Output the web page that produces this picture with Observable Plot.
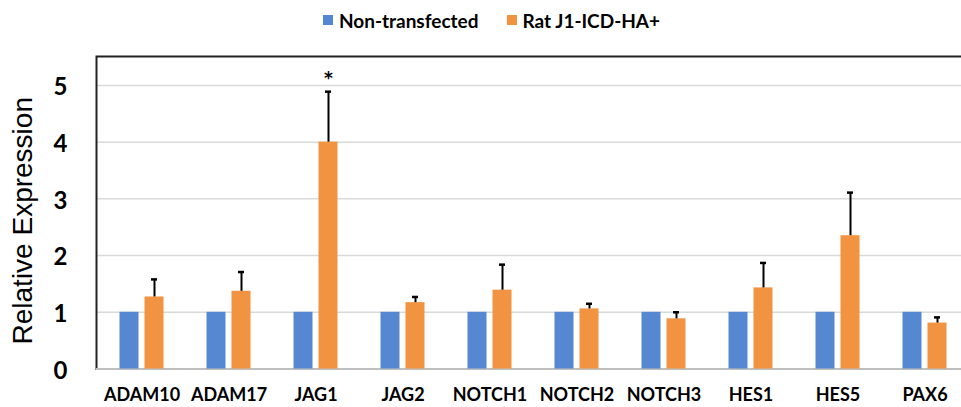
<!DOCTYPE html>
<html><head><meta charset="utf-8">
<script src="https://cdn.jsdelivr.net/npm/d3@7"></script>
<script src="https://cdn.jsdelivr.net/npm/@observablehq/plot@0.6"></script>
<style>
body{margin:0;background:#fff;overflow:hidden}
#legend{height:40px;display:flex;justify-content:center;align-items:center;font:bold 19px Lato, sans-serif;color:#000;padding-left:22px;box-sizing:border-box}
.item{display:flex;align-items:center;margin:0 14px}
.sw{width:10px;height:10px;margin-right:6px}
</style></head><body>
<div id="legend"></div><div id="chart"></div>
<script>
const genes = ["ADAM10","ADAM17","JAG1","JAG2","NOTCH1","NOTCH2","NOTCH3","HES1","HES5","PAX6"];
const series = ["Non-transfected","Rat J1-ICD-HA+"];
const nonTransfected = [1,1,1,1,1,1,1,1,1,1];
const ratJ1 = [1.27,1.37,4.0,1.17,1.39,1.06,0.885,1.43,2.35,0.81];
const ratJ1Err = [0.31,0.34,0.89,0.10,0.45,0.09,0.115,0.44,0.76,0.10];
const significance = ["","","*","","","","","","",""];
const yTicks = [0,1,2,3,4,5];
const yTitle = "Relative Expression";
const colors = ["#5687d1","#f29341"];

const legend = document.getElementById("legend");
series.forEach((s,i)=>{
  const it = document.createElement("div"); it.className="item";
  const sw = document.createElement("div"); sw.className="sw"; sw.style.background=colors[i];
  const t = document.createElement("span"); t.textContent=s;
  it.append(sw,t); legend.append(it);
});

const data = genes.map((g,i)=>({gene:g, nt:nonTransfected[i], rat:ratJ1[i], err:ratJ1Err[i], sig:significance[i]}));

const chart = Plot.plot({
  width:961, height:367,
  marginTop:16, marginBottom:38.5, marginLeft:96, marginRight:-8,
  style:{background:"#fff"},
  x:{domain:genes, paddingInner:0.782, paddingOuter:0.391},
  y:{domain:[0,5.51]},
  marks:[
    Plot.ruleY(yTicks.slice(1), {stroke:"#d9d9d9", strokeWidth:1.5}),
    Plot.frame({stroke:"#222", strokeWidth:2}),
    Plot.ruleY([0], {stroke:"#bfbfbf", strokeWidth:2}),
    Plot.barY(data,{x:"gene", y:"nt", fill:colors[0], dx:-12.5}),
    Plot.barY(data,{x:"gene", y:"rat", fill:colors[1], dx:12.5}),
    Plot.ruleX(data,{x:"gene", y1:"rat", y2:d=>d.rat+d.err, dx:12.5, stroke:"#000", strokeWidth:2}),
    Plot.tickY(data,{x:"gene", y:d=>d.rat+d.err, dx:12.5, insetLeft:6.5, insetRight:6.5, stroke:"#000", strokeWidth:2.5}),
    Plot.text(data,{x:"gene", y:d=>d.rat+d.err, text:"sig", dx:12.5, dy:-13, fontSize:17, fontWeight:"bold", fontFamily:"DejaVu Sans", fill:"#000"}),
    Plot.axisX({tickSize:0, tickPadding:19, fontSize:18, fontWeight:"bold", fontFamily:"Lato", fill:"#000", label:null}),
    Plot.axisY(yTicks,{tickSize:0, tickPadding:29, fontSize:24, fontWeight:"bold", fontFamily:"Lato", fill:"#000", label:null, dy:2, tickFormat:d=>String(d)}),
    Plot.text([yTitle],{text:d=>d, frameAnchor:"left", textAnchor:"middle", rotate:-90, dx:-73, dy:8, fontSize:28, fontFamily:"Liberation Sans, Arial", fill:"#000"})
  ]
});
document.getElementById("chart").append(chart);
</script>
</body></html>
